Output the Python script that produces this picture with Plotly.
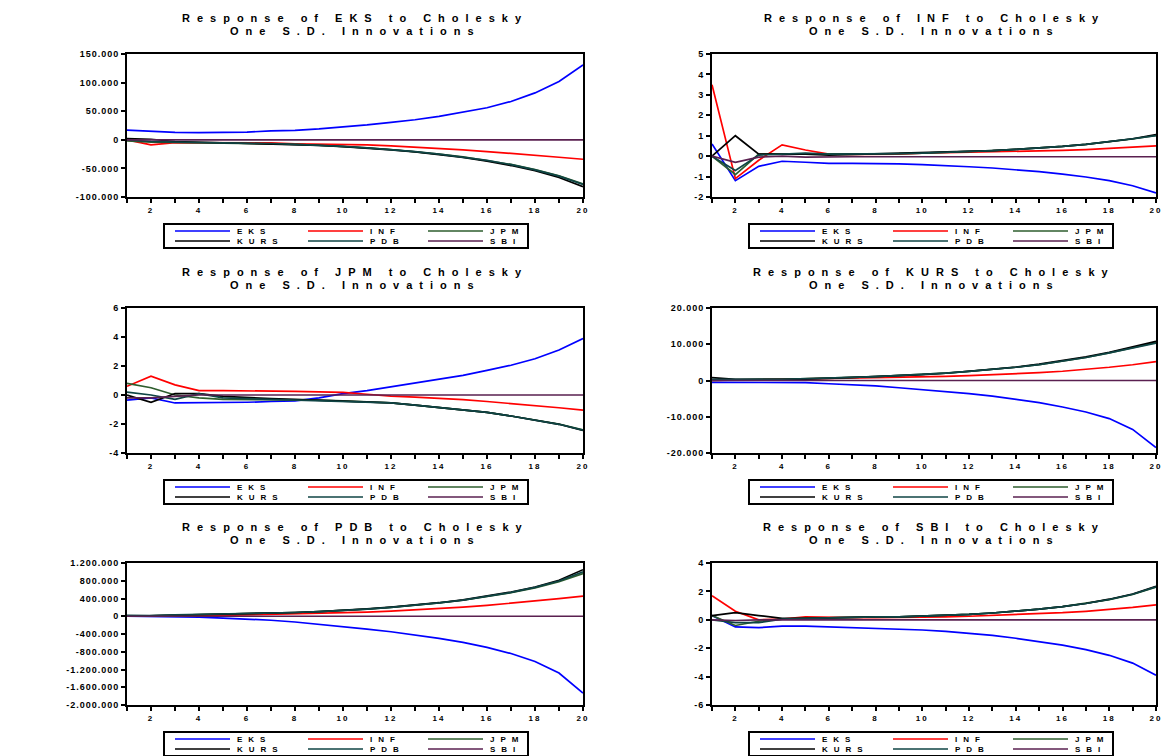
import plotly.graph_objects as go

periods = list(range(1, 21))
shocks = ["EKS", "INF", "JPM", "KURS", "PDB", "SBI"]
line_colors = ["#0000FF", "#FF0000", "#2E5E2E", "#000000", "#0F4545", "#5A2050"]

# ---- Response of EKS ----
eks_EKS = [17000, 15000, 13000, 12500, 12500, 13500, 15500, 16500, 19000, 22000, 26000, 30500, 35000, 41000, 48000, 56000, 67000, 82000, 102000, 131000]
eks_INF = [0, -9000, -5000, -5000, -5000, -5000, -5500, -7000, -7500, -8000, -9000, -10500, -12500, -15000, -17500, -20500, -23500, -27000, -30500, -34000]
eks_JPM = [-2000, -4000, -4500, -5000, -5500, -6000, -7000, -8000, -9500, -11500, -14000, -17000, -20500, -25000, -30000, -36000, -43000, -52000, -63000, -77000]
eks_KURS = [2000, 1000, -3000, -4000, -5000, -6000, -7000, -8000, -10000, -12000, -14500, -17500, -21000, -25500, -31000, -37500, -45000, -54000, -66000, -82000]
eks_PDB = [0, -3000, -4000, -4500, -5000, -5500, -6500, -8000, -9500, -11500, -14000, -17000, -20500, -25000, -30000, -36000, -43500, -52500, -63500, -78000]
eks_SBI = [0, -400, -200, -100, -100, -100, -100, -100, -100, -100, -100, -100, -100, -100, -100, -100, -100, -100, -100, -100]

# ---- Response of INF ----
inf_EKS = [0.6, -1.2, -0.5, -0.25, -0.3, -0.35, -0.35, -0.35, -0.38, -0.42, -0.46, -0.52, -0.58, -0.66, -0.76, -0.88, -1.02, -1.2, -1.45, -1.8]
inf_INF = [3.5, -1.1, -0.2, 0.55, 0.3, 0.1, 0.08, 0.08, 0.1, 0.15, 0.17, 0.2, 0.2, 0.22, 0.25, 0.28, 0.32, 0.37, 0.42, 0.5]
inf_JPM = [0.0, -0.9, 0.1, 0.1, 0.12, 0.1, 0.1, 0.1, 0.12, 0.15, 0.18, 0.22, 0.27, 0.33, 0.4, 0.48, 0.58, 0.7, 0.84, 1.02]
inf_KURS = [0.0, 1.0, 0.1, 0.1, 0.1, 0.05, 0.08, 0.1, 0.12, 0.15, 0.18, 0.22, 0.27, 0.33, 0.4, 0.48, 0.58, 0.7, 0.85, 1.05]
inf_PDB = [0.0, -0.7, 0.05, 0.1, 0.15, 0.1, 0.1, 0.1, 0.12, 0.15, 0.18, 0.22, 0.27, 0.33, 0.4, 0.48, 0.58, 0.7, 0.85, 1.0]
inf_SBI = [0.0, -0.3, -0.05, 0.0, -0.05, -0.03, -0.03, -0.03, -0.03, -0.03, -0.03, -0.03, -0.03, -0.03, -0.03, -0.03, -0.03, -0.03, -0.03, -0.03]

# ---- Response of JPM ----
jpm_EKS = [-0.35, -0.2, -0.55, -0.55, -0.5, -0.5, -0.45, -0.4, -0.2, 0.1, 0.3, 0.55, 0.8, 1.05, 1.35, 1.7, 2.05, 2.5, 3.1, 3.9]
jpm_INF = [0.6, 1.3, 0.7, 0.3, 0.3, 0.3, 0.28, 0.25, 0.22, 0.18, 0.05, -0.08, -0.15, -0.22, -0.32, -0.45, -0.58, -0.72, -0.88, -1.05]
jpm_JPM = [0.8, 0.5, 0.0, -0.2, -0.3, -0.3, -0.3, -0.3, -0.35, -0.4, -0.45, -0.55, -0.7, -0.85, -1.0, -1.2, -1.45, -1.7, -2.0, -2.4]
jpm_KURS = [0.0, -0.5, 0.1, 0.1, -0.1, -0.2, -0.25, -0.3, -0.35, -0.4, -0.45, -0.55, -0.7, -0.85, -1.0, -1.2, -1.45, -1.72, -2.02, -2.45]
jpm_PDB = [0.2, 0.0, -0.3, 0.1, -0.2, -0.25, -0.3, -0.3, -0.35, -0.4, -0.45, -0.55, -0.7, -0.85, -1.0, -1.2, -1.45, -1.72, -2.02, -2.42]
jpm_SBI = [-0.2, -0.2, -0.1, 0.0, 0.0, 0.0, 0.0, 0.0, 0.0, 0.0, 0.0, 0.0, 0.0, 0.0, 0.0, 0.0, 0.0, 0.0, 0.0, 0.0]

# ---- Response of KURS ----
kurs_EKS = [-500, -500, -500, -500, -600, -900, -1100, -1500, -2000, -2500, -3000, -3600, -4300, -5100, -6100, -7300, -8700, -10500, -13500, -18500]
kurs_INF = [0, 100, 200, 300, 400, 500, 600, 700, 850, 1000, 1150, 1350, 1550, 1800, 2150, 2550, 3050, 3650, 4350, 5200]
kurs_JPM = [0, 200, 300, 350, 450, 650, 850, 1050, 1350, 1650, 2050, 2500, 3000, 3650, 4400, 5300, 6350, 7600, 9000, 10500]
kurs_KURS = [800, 300, 300, 300, 400, 600, 800, 1000, 1300, 1600, 2000, 2500, 3000, 3700, 4500, 5400, 6500, 7800, 9200, 10800]
kurs_PDB = [300, 200, 300, 350, 450, 650, 850, 1050, 1350, 1650, 2050, 2500, 3000, 3650, 4400, 5300, 6350, 7600, 9000, 10300]
kurs_SBI = [0, 0, 0, 0, 0, 0, 0, 0, 0, 0, 0, 0, 0, 0, 0, 0, 0, 0, 0, 0]

# ---- Response of PDB ----
pdb_EKS = [0, -5000, -10000, -20000, -40000, -60000, -90000, -130000, -180000, -230000, -290000, -350000, -420000, -500000, -590000, -700000, -840000, -1020000, -1280000, -1730000]
pdb_INF = [0, 0, 5000, 10000, 20000, 30000, 40000, 50000, 60000, 75000, 95000, 115000, 140000, 170000, 205000, 245000, 290000, 340000, 395000, 455000]
pdb_JPM = [0, 10000, 30000, 40000, 45000, 55000, 70000, 85000, 105000, 130000, 160000, 200000, 245000, 300000, 360000, 440000, 530000, 640000, 780000, 960000]
pdb_KURS = [0, 10000, 30000, 40000, 45000, 55000, 70000, 85000, 105000, 130000, 165000, 205000, 250000, 305000, 370000, 450000, 545000, 660000, 810000, 1050000]
pdb_PDB = [20000, 15000, 30000, 40000, 45000, 55000, 70000, 85000, 105000, 130000, 162000, 202000, 248000, 302000, 365000, 445000, 538000, 650000, 795000, 1000000]
pdb_SBI = [0, 0, 0, 0, 0, 0, 0, 0, 0, 0, 0, 0, 0, 0, 0, 0, 0, 0, 0, 0]

# ---- Response of SBI ----
sbi_EKS = [0.3, -0.5, -0.55, -0.45, -0.45, -0.5, -0.55, -0.6, -0.65, -0.72, -0.82, -0.95, -1.1, -1.3, -1.52, -1.78, -2.1, -2.5, -3.05, -3.9]
sbi_INF = [1.7, 0.6, 0.0, 0.05, 0.2, 0.15, 0.15, 0.15, 0.15, 0.15, 0.2, 0.25, 0.3, 0.35, 0.42, 0.5, 0.6, 0.72, 0.87, 1.05]
sbi_JPM = [0.3, -0.4, -0.1, 0.05, 0.1, 0.15, 0.15, 0.2, 0.2, 0.25, 0.3, 0.38, 0.48, 0.6, 0.75, 0.93, 1.15, 1.42, 1.78, 2.3]
sbi_KURS = [0.3, 0.5, 0.3, 0.1, 0.1, 0.15, 0.15, 0.2, 0.2, 0.25, 0.3, 0.38, 0.48, 0.6, 0.75, 0.93, 1.15, 1.45, 1.82, 2.35]
sbi_PDB = [0.0, -0.2, -0.2, 0.05, 0.1, 0.15, 0.15, 0.2, 0.2, 0.25, 0.3, 0.38, 0.48, 0.6, 0.75, 0.93, 1.15, 1.43, 1.8, 2.32]
sbi_SBI = [0.0, -0.05, 0.0, 0.0, 0.0, 0.0, 0.0, 0.0, 0.0, 0.0, 0.0, 0.0, 0.0, 0.0, 0.0, 0.0, 0.0, 0.0, 0.0, 0.0]

# ---- tick labels ----
yt_eks = [-100000, -50000, 0, 50000, 100000, 150000]
yl_eks = ["-100.000", "-50.000", "0", "50.000", "100.000", "150.000"]
yt_inf = [-2, -1, 0, 1, 2, 3, 4, 5]
yl_inf = ["-2", "-1", "0", "1", "2", "3", "4", "5"]
yt_jpm = [-4, -2, 0, 2, 4, 6]
yl_jpm = ["-4", "-2", "0", "2", "4", "6"]
yt_kurs = [-20000, -10000, 0, 10000, 20000]
yl_kurs = ["-20.000", "-10.000", "0", "10.000", "20.000"]
yt_pdb = [-2000000, -1600000, -1200000, -800000, -400000, 0, 400000, 800000, 1200000]
yl_pdb = ["-2.000.000", "-1.600.000", "-1.200.000", "-800.000", "-400.000", "0", "400.000", "800.000", "1.200.000"]
yt_sbi = [-6, -4, -2, 0, 2, 4]
yl_sbi = ["-6", "-4", "-2", "0", "2", "4"]
x_labels = ["" if p % 2 else str(p) for p in periods]

panels = [
    ("EKS", [eks_EKS, eks_INF, eks_JPM, eks_KURS, eks_PDB, eks_SBI], yt_eks, yl_eks),
    ("INF", [inf_EKS, inf_INF, inf_JPM, inf_KURS, inf_PDB, inf_SBI], yt_inf, yl_inf),
    ("JPM", [jpm_EKS, jpm_INF, jpm_JPM, jpm_KURS, jpm_PDB, jpm_SBI], yt_jpm, yl_jpm),
    ("KURS", [kurs_EKS, kurs_INF, kurs_JPM, kurs_KURS, kurs_PDB, kurs_SBI], yt_kurs, yl_kurs),
    ("PDB", [pdb_EKS, pdb_INF, pdb_JPM, pdb_KURS, pdb_PDB, pdb_SBI], yt_pdb, yl_pdb),
    ("SBI", [sbi_EKS, sbi_INF, sbi_JPM, sbi_KURS, sbi_PDB, sbi_SBI], yt_sbi, yl_sbi),
]

W, H = 1166, 756
col_px = [(127, 583), (712, 1156)]
row_px = [(54, 197), (308, 453), (563, 705)]
FONT = "Liberation Sans"
# legend grid (pixel offsets relative to plot-area left / bottom)
LEG_COL_OFF = [48, 181, 301]
LEG_ROW_OFF = [34, 44]
LEG_LINE_LEN = 55


def sp(text, ls):
    return '<span style="letter-spacing:%spx">%s</span>' % (ls, text)


def px(x):
    return x / W


def py(y):
    return 1 - y / H


fig = go.Figure()
annotations = []
shapes = []
layout = dict(
    width=W, height=H,
    margin=dict(l=0, r=0, t=0, b=0, autoexpand=False),
    paper_bgcolor="white", plot_bgcolor="white",
    font=dict(family=FONT, size=9, color="black", weight="bold"),
    showlegend=False,
)

for i, (name, series, yt, yl) in enumerate(panels):
    r, c = divmod(i, 2)
    x0, x1 = col_px[c]
    y0, y1 = row_px[r]
    sx = "" if i == 0 else str(i + 1)
    for k, shock in enumerate(shocks):
        fig.add_trace(go.Scatter(
            x=periods, y=series[k], mode="lines",
            line=dict(color=line_colors[k], width=1.7),
            name=shock, xaxis="x" + sx, yaxis="y" + sx,
            showlegend=False, hoverinfo="skip",
        ))
    layout["xaxis" + sx] = dict(
        domain=[px(x0), px(x1)], anchor="y" + sx, range=[1, 20],
        tickvals=periods, ticktext=[sp(t, 2) for t in x_labels],
        ticks="outside", ticklen=4, tickwidth=1.5, tickcolor="black",
        showline=True, linecolor="black", linewidth=1.8, mirror=True,
        showgrid=False, zeroline=False, tickfont=dict(size=8), automargin=False,
    )
    layout["yaxis" + sx] = dict(
        domain=[py(y1), py(y0)], anchor="x" + sx,
        range=[yt[0], yt[-1]], tickvals=yt, ticktext=[sp(t, 1) for t in yl],
        ticks="outside", ticklen=4, tickwidth=1.5, tickcolor="black",
        showline=True, linecolor="black", linewidth=1.8, mirror=True,
        showgrid=False, zeroline=False, tickfont=dict(size=9), automargin=False,
    )
    cx = (x0 + x1) / 2
    for j, line in enumerate(["Response of %s to Cholesky" % name, "One S.D. Innovations"]):
        annotations.append(dict(
            xref="paper", yref="paper", x=px(cx), y=py(y0 - 36 + 13 * j),
            yanchor="middle", xanchor="center", showarrow=False,
            text=sp(line, 7), font=dict(size=11, family=FONT, weight="bold"),
        ))
    # legend box
    shapes.append(dict(type="rect", xref="paper", yref="paper",
                       x0=px(x0 + 37), x1=px(x0 + 401), y0=py(y1 + 27), y1=py(y1 + 51),
                       line=dict(color="black", width=2), fillcolor="white"))
    for k, shock in enumerate(shocks):
        rr, cc = divmod(k, 3)
        lx = x0 + LEG_COL_OFF[cc]
        ly = y1 + LEG_ROW_OFF[rr]
        shapes.append(dict(type="line", xref="paper", yref="paper",
                           x0=px(lx), x1=px(lx + LEG_LINE_LEN), y0=py(ly), y1=py(ly),
                           line=dict(color=line_colors[k], width=1.7)))
        annotations.append(dict(
            xref="paper", yref="paper", x=px(lx + LEG_LINE_LEN + 5), y=py(ly),
            xanchor="left", yanchor="middle", showarrow=False,
            text=sp(shock, 6), font=dict(size=8, family=FONT, weight="bold"),
        ))

layout["annotations"] = annotations
layout["shapes"] = shapes
fig.update_layout(**layout)
fig.write_html(
    "out.html",
    config={"displayModeBar": False},
    post_script="document.body.style.margin='0';document.body.style.overflow='hidden';",
)
